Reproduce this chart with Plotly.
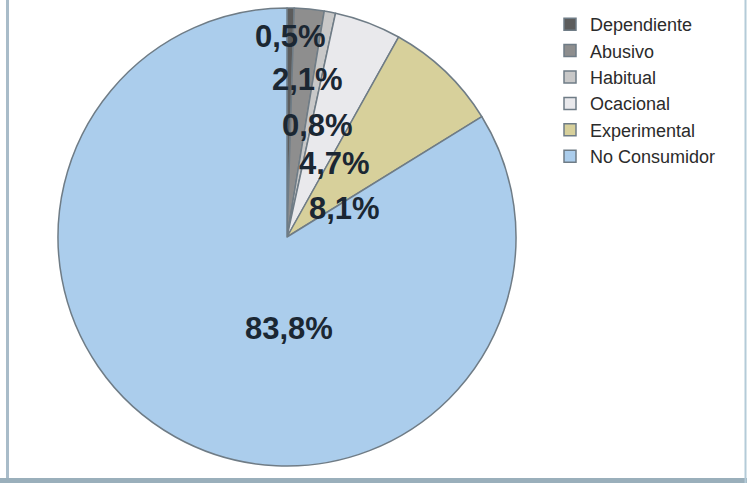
import plotly.graph_objects as go

# ---- data ----
categories = ["Dependiente", "Abusivo", "Habitual", "Ocacional", "Experimental", "No Consumidor"]
values = [0.5, 2.1, 0.8, 4.7, 8.1, 83.8]
colors = ["#5c5c5c", "#8e8e8e", "#c8c8c8", "#e9e9ec", "#d7d09b", "#abcdec"]

# ---- layout constants (pixels) ----
W, H = 747, 483
CX, CY, R = 287, 237, 229
# label centres in pixels (layout only)
label_px = [(290, 37), (307, 80), (317, 125), (334, 163), (344, 208), (289, 328)]

def fmt(v):
    return f"{v:.1f}".replace(".", ",") + "%"

fig = go.Figure()
fig.add_trace(go.Pie(
    labels=categories,
    values=values,
    sort=False,
    direction="clockwise",
    rotation=0,
    textinfo="none",
    hoverinfo="label+percent",
    marker=dict(colors=colors, line=dict(color="#6f7c86", width=1.5)),
    domain=dict(x=[(CX - R) / W, (CX + R) / W], y=[(H - CY - R) / H, (H - CY + R) / H]),
))

annotations = []
for v, (px, py) in zip(values, label_px):
    annotations.append(dict(
        x=px / W, y=1 - py / H, xref="paper", yref="paper",
        text="<b>" + fmt(v) + "</b>", showarrow=False, xanchor="center", yanchor="middle",
        font=dict(family="Liberation Sans, Arial, sans-serif", size=31, color="#1b2733"),
    ))

shapes = [
    dict(type="line", xref="paper", yref="paper", x0=7.5 / W, x1=7.5 / W, y0=0, y1=1,
         line=dict(color="#a9bcc9", width=3)),
    dict(type="line", xref="paper", yref="paper", x0=0, x1=1, y0=2.5 / H, y1=2.5 / H,
         line=dict(color="#9aafbb", width=5)),
    dict(type="line", xref="paper", yref="paper", x0=745.5 / W, x1=745.5 / W, y0=0, y1=1,
         line=dict(color="#b4cbd8", width=2)),
]

fig.update_layout(
    width=W, height=H,
    margin=dict(l=0, r=0, t=0, b=0),
    paper_bgcolor="white",
    plot_bgcolor="white",
    showlegend=True,
    legend=dict(
        x=550 / W, y=1 - 6 / H, xanchor="left", yanchor="top",
        font=dict(family="Liberation Sans, Arial, sans-serif", size=18, color="#2b2b2b"),
        bgcolor="rgba(0,0,0,0)", traceorder="normal",
    ),
    annotations=annotations,
    shapes=shapes,
)

fig.write_html(
    "out.html",
    config={"displayModeBar": False},
    post_script="document.body.style.margin='0';document.body.style.padding='0';document.body.style.overflow='hidden';",
)
